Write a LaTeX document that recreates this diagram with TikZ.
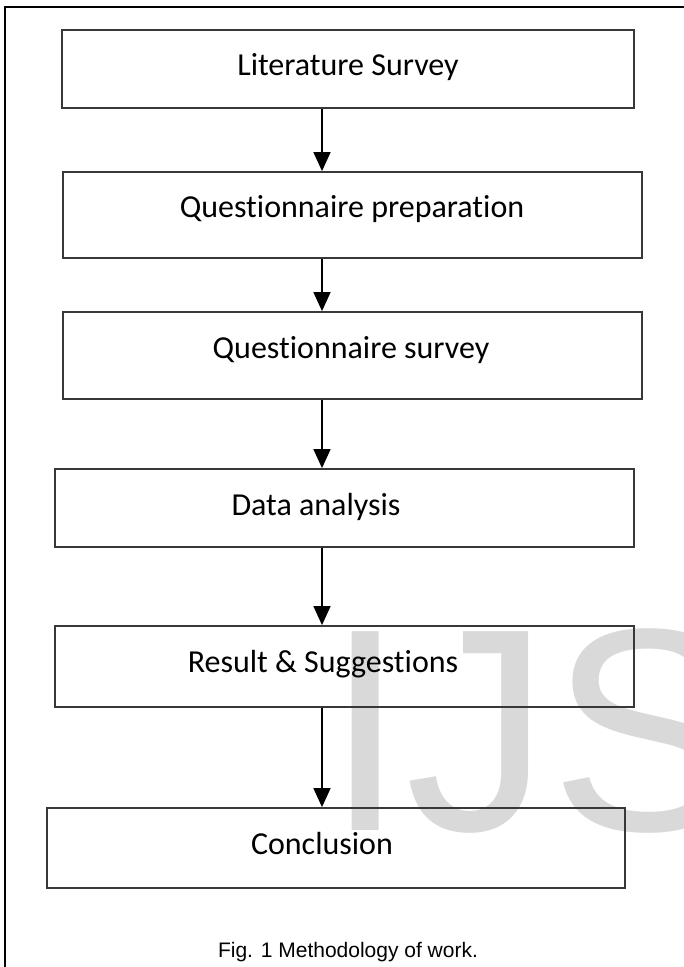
\documentclass[tikz,border=0pt]{standalone}
\usepackage{fontspec}
\setmainfont{Carlito}[Ligatures=NoCommon]
\newfontfamily\capfont{Liberation Sans}
\usetikzlibrary{arrows.meta}

\begin{document}
\begin{tikzpicture}[x=1pt,y=-1pt,
  stepbox/.style={draw=black!78,line width=1.8pt,inner sep=0pt,minimum width=579pt},
  steptext/.style={anchor=base,inner sep=0pt,font=\fontsize{32}{38}\selectfont},
  flow/.style={line width=1.5pt,-{Triangle[length=19pt,width=17pt]}}]
\useasboundingbox (0,0) rectangle (684,967);
\clip (0,0) rectangle (684,967);
\fill[white] (0,0) rectangle (684,967);

% watermark, behind everything
\node[anchor=base west,inner sep=0pt,text=black!15,font=\capfont\fontsize{289}{289}\selectfont] (mark) at (325,830) {IJS};

\draw[line width=2pt] (5,7) rectangle (700,990); % outer frame

% the six steps
\node[stepbox,minimum width=572pt,minimum height=78pt] (lit) at (348,69) {};
\node[stepbox,minimum height=86pt] (prep) at (352.5,215) {};
\node[stepbox,minimum height=87pt] (qsurv) at (352.5,355.5) {};
\node[stepbox,minimum height=78pt] (data) at (344.5,508) {};
\node[stepbox,minimum height=81pt] (result) at (344.5,666.5) {};
\node[stepbox,minimum width=578pt,minimum height=80pt] (concl) at (336,848) {};

\node[steptext] (litText) at (348,75) {Literature Survey};
\node[steptext] (prepText) at (352,217) {Questionnaire preparation};
\node[steptext] (qsurvText) at (351,358) {Questionnaire survey};
\node[steptext] (dataText) at (316,515) {Data analysis};
\node[steptext] (resultText) at (323,672) {Result \& Suggestions};
\node[steptext] (conclText) at (322,854) {Conclusion};

% arrows down the middle
\coordinate (ax) at (322,0);
\foreach \a/\b in {lit/prep,prep/qsurv,qsurv/data,data/result,result/concl}
  \draw[flow] (\a.south -| ax) -- (\b.north -| ax);

\node[anchor=base,inner sep=0pt,font=\capfont\fontsize{21}{25}\selectfont] (caption) at (348,957) {Fig. 1 Methodology of work.};
\end{tikzpicture}
\end{document}
